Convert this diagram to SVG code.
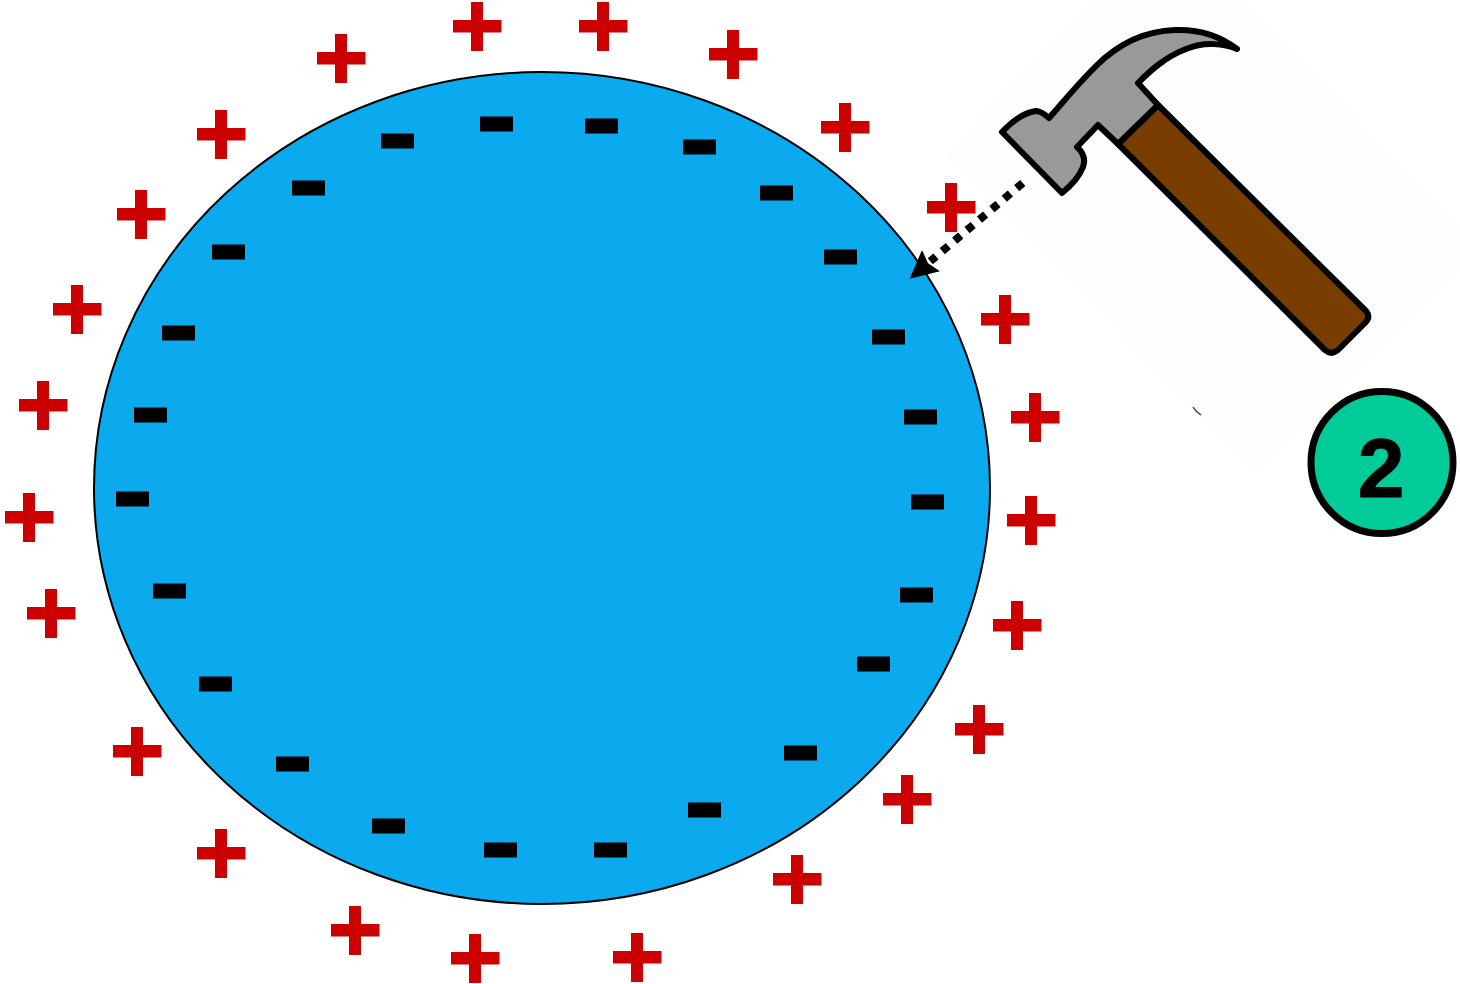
<svg xmlns="http://www.w3.org/2000/svg" width="1460" height="984" viewBox="0 0 1460 984">
<style>
.plus{fill:#cc0000}
.minus{fill:#000}
.ol{stroke:#000;stroke-width:6;stroke-linejoin:round}
</style>
<defs>
<path id="p" class="plus" d="M-6-24h12v18h18.500v12.500h-18.500v18.500h-12v-18.500h-18v-12.500h18z"/>
<rect id="m" class="minus" x="-16.500" y="-7.500" width="33" height="15"/>
<marker id="arrow" markerUnits="userSpaceOnUse" markerWidth="28" markerHeight="28" refX="1" refY="14" orient="auto" viewBox="0 0 28 28"><path d="M0 0L28 14L0 28L4 14z" fill="#000"/></marker>
</defs>
<rect width="1460" height="984" fill="#fff"/>
<g id="backdrop"><polygon points="945,155 1096,0 1239,0 1460,225 1460,270 1255,470" fill="#fdfdfd"/><path d="M1193,407Q1196,412 1201,415" fill="none" stroke="#555" stroke-width="1.500"/></g>
<g id="sphere"><ellipse cx="542" cy="488" rx="448" ry="416" fill="#0ba9ed" stroke="#000" stroke-width="2"/></g>
<g id="plus-charges">
<use href="#p" x="477" y="26"/><use href="#p" x="603" y="26"/><use href="#p" x="733" y="54"/><use href="#p" x="845" y="127"/><use href="#p" x="951" y="207"/><use href="#p" x="1005" y="319"/><use href="#p" x="1035" y="417"/><use href="#p" x="1031" y="520"/><use href="#p" x="1017" y="625"/><use href="#p" x="979" y="729"/><use href="#p" x="907" y="799"/><use href="#p" x="797" y="879"/><use href="#p" x="637" y="957"/><use href="#p" x="475" y="958"/><use href="#p" x="355" y="930"/><use href="#p" x="221" y="853"/><use href="#p" x="137" y="751"/><use href="#p" x="51" y="613"/><use href="#p" x="29" y="517"/><use href="#p" x="43" y="405"/><use href="#p" x="77" y="309"/><use href="#p" x="141" y="214"/><use href="#p" x="221" y="134"/><use href="#p" x="341" y="58"/>
</g>
<g id="minus-charges">
<use href="#m" x="496.500" y="124"/><use href="#m" x="601.500" y="126"/><use href="#m" x="699.500" y="147"/><use href="#m" x="776.500" y="193"/><use href="#m" x="840.500" y="257"/><use href="#m" x="888.500" y="337"/><use href="#m" x="920.500" y="417"/><use href="#m" x="927.500" y="502"/><use href="#m" x="916.500" y="595"/><use href="#m" x="873.500" y="664"/><use href="#m" x="800.500" y="753"/><use href="#m" x="704.500" y="810"/><use href="#m" x="610.500" y="850"/><use href="#m" x="500.500" y="850"/><use href="#m" x="388.500" y="826"/><use href="#m" x="292.500" y="764"/><use href="#m" x="215.500" y="684"/><use href="#m" x="169.500" y="591"/><use href="#m" x="132.500" y="499"/><use href="#m" x="150.500" y="415"/><use href="#m" x="178.500" y="333"/><use href="#m" x="228.500" y="252"/><use href="#m" x="308.500" y="188"/><use href="#m" x="397.500" y="141"/>
</g>
<g id="hammer">
<path class="ol" fill="#7a3d00" d="M1158,105L1366,311Q1371,317 1365,323L1339,349Q1332,356 1325,350L1118,144z"/>
<path class="ol" fill="#999" d="M1002,132Q1020,113 1036,111Q1041,111 1049,118C1065,100 1075,87 1096,66C1120,42 1145,31 1175,30C1200,29 1220,36 1237,49C1225,44 1205,41 1186,49C1165,57 1150,71 1138,83L1158,105L1118,144L1098,125L1077,147Q1087,156 1083,167Q1078,180 1062,193z"/>
</g>
<g id="connectors">
<line x1="1022.800" y1="183" x2="930.300" y2="261.300" stroke="#000" stroke-width="8" stroke-dasharray="8 8.250" marker-end="url(#arrow)"/>
</g>
<g id="badge">
<circle cx="1382" cy="462.500" r="71" fill="#00cc99" stroke="#000" stroke-width="7"/>
<text x="1381" y="497" text-anchor="middle" font-family="'Liberation Sans',Arial,sans-serif" font-weight="700" font-size="84" stroke="#000" stroke-width="1">2</text>
</g>
</svg>
